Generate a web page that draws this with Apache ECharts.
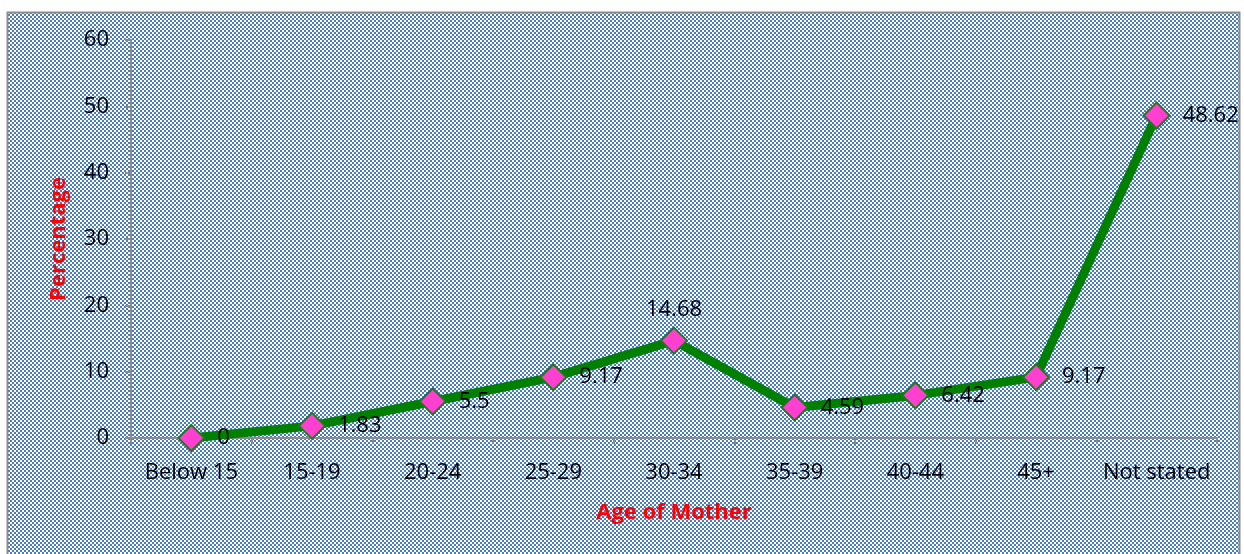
<!DOCTYPE html>
<html>
<head>
    <meta charset="utf-8">
    <title>Age of Mother</title>
    <script src="https://cdn.jsdelivr.net/npm/echarts@6/dist/echarts.min.js"></script>
    <style>
        html, body { margin: 0; padding: 0; background: #fff; }
        #main { width: 1244px; height: 554px; }
    </style>
</head>
<body>
<div id="main"></div>
<script>
    // data
    var categories = ['Below 15', '15-19', '20-24', '25-29', '30-34', '35-39', '40-44', '45+', 'Not stated'];
    var percentage = [0, 1.83, 5.5, 9.17, 14.68, 4.59, 6.42, 9.17, 48.62];
    var yTicks = [0, 10, 20, 30, 40, 50, 60];

    // checkered blue fill like the office chart area
    function makePattern() {
        var c = document.createElement('canvas');
        c.width = 4;
        c.height = 4;
        var ctx = c.getContext('2d');
        ctx.fillStyle = '#4a7cc2';
        ctx.fillRect(0, 0, 4, 4);
        ctx.fillStyle = '#ffffff';
        ctx.fillRect(0, 0, 2, 2);
        ctx.fillRect(2, 2, 2, 2);
        return c;
    }

    var font = '"Open Sans", "Noto Sans", sans-serif';
    var seriesData = percentage.map(function (v, i) {
        var item = {value: v};
        if (i === 4) {
            item.label = {position: 'top', distance: 6};
        }
        return item;
    });

    var myChart = echarts.init(document.getElementById('main'));
    myChart.setOption({
        backgroundColor: '#ffffff',
        animation: false,
        graphic: [{
            type: 'rect',
            z: -10,
            shape: {x: 7.5, y: 12.5, width: 1232, height: 545},
            style: {
                fill: {image: makePattern(), repeat: 'repeat'},
                stroke: '#8c8c8c',
                lineWidth: 2
            }
        }],
        grid: {left: 131, right: 27, top: 40, bottom: 116},
        xAxis: {
            type: 'category',
            data: categories,
            boundaryGap: true,
            name: 'Age of Mother',
            nameLocation: 'middle',
            nameGap: 64,
            nameTextStyle: {color: '#ff0000', fontWeight: 'bold', fontSize: 22, fontFamily: font},
            axisLine: {lineStyle: {color: '#8c8c8c', width: 2}},
            axisTick: {show: true, length: 6, alignWithLabel: false, lineStyle: {color: '#8c8c8c', width: 2}},
            axisLabel: {color: '#000', fontSize: 22, fontFamily: font, margin: 24, interval: 0},
            splitLine: {show: false}
        },
        yAxis: {
            type: 'value',
            min: yTicks[0],
            max: yTicks[yTicks.length - 1],
            interval: 10,
            name: 'Percentage',
            nameLocation: 'middle',
            nameRotate: 90,
            nameGap: 61,
            nameTextStyle: {color: '#ff0000', fontWeight: 'bold', fontSize: 22, fontFamily: font},
            axisLine: {show: true, lineStyle: {color: '#8c8c8c', width: 2}},
            axisTick: {show: true, length: 6, lineStyle: {color: '#8c8c8c', width: 2}},
            axisLabel: {color: '#000', fontSize: 22, fontFamily: font, margin: 22},
            splitLine: {show: false}
        },
        series: [{
            name: 'Percentage',
            type: 'line',
            data: seriesData,
            symbol: 'diamond',
            symbolSize: [26, 26],
            lineStyle: {color: '#008000', width: 9},
            itemStyle: {color: '#ff3fcf', borderColor: '#1f7a1f', borderWidth: 2},
            label: {
                show: true,
                position: 'right',
                distance: 12,
                color: '#000',
                fontSize: 22,
                fontFamily: font
            }
        }]
    });
</script>
</body>
</html>
